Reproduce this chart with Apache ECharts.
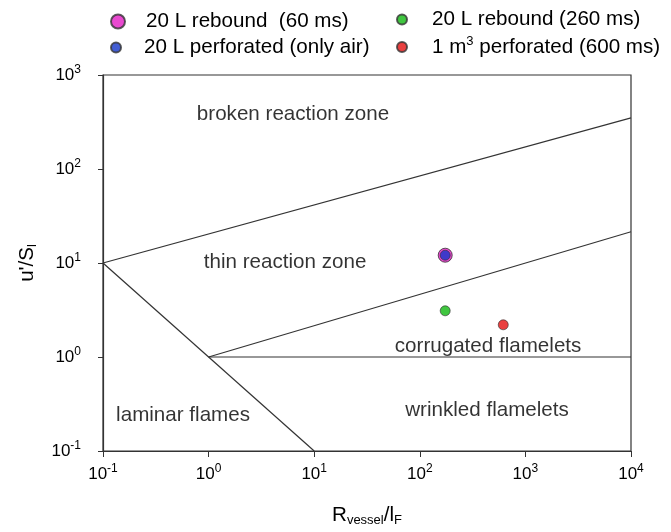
<!DOCTYPE html>
<html><head><meta charset="utf-8">
<script src="https://cdn.jsdelivr.net/npm/echarts@6/dist/echarts.min.js"></script>
<style>html,body{margin:0;padding:0;background:#fff}#c{width:671px;height:532px}</style>
</head><body><div id="c"></div>
<script>
// Data
var xTicks = [0.1, 1, 10, 100, 1000, 10000];
var yTicks = [0.1, 1, 10, 100, 1000];
var lineUpper = [[0.1, 10], [10000, 350]];
var lineLower = [[1, 1], [10000, 21.5]];
var lineDiag = [[0.1, 10], [10, 0.1]];
var lineHoriz = [[1, 1], [10000, 1]];
var rebound60 = [[174, 12.1]];
var perforatedAir = [[174, 12.1]];
var rebound260 = [[174, 3.1]];
var perforated1m3 = [[617, 2.2]];
var regionNames = ['broken reaction zone', 'thin reaction zone', 'corrugated flamelets', 'wrinkled flamelets', 'laminar flames'];
var regionAt = [[6.3, 380], [5.3, 10.2], [443, 1.31], [433, 0.271], [0.573, 0.24]];

var FONT = 'Liberation Sans, Arial, sans-serif';
var TXT = 20.6;
function expLabel(v){
  var e = Math.round(Math.log10(v));
  return '{b|10}{s|' + e + '}';
}
var tickRich = {
  b: {fontSize: 17, fontFamily: FONT, color: '#000', lineHeight: 22},
  s: {fontSize: 12, fontFamily: FONT, color: '#000', verticalAlign: 'top', lineHeight: 22, padding:[0,0,8,0]}
};
var lineStyle = {color: '#333', width: 1.2};
function lineSeries(d){
  return {type:'line', data:d, symbol:'none', lineStyle:lineStyle, silent:true, animation:false, z:2};
}
var legendRich = {
  t: {fontSize: TXT, fontFamily: FONT, color: '#000'},
  sup: {fontSize: 13, fontFamily: FONT, color: '#000', padding:[0,0,11,0]}
};
function mkLegend(name, left, top, size, pad){
  return {data:[name], left:left, top:top, itemWidth:24, itemHeight:size, icon:'circle', padding:0,
    textStyle:{fontSize:TXT, fontFamily:FONT, color:'#000', padding:[0,0,0,pad], rich:legendRich},
    formatter: function(n){ return n==='1 m3 perforated (600 ms)' ? '{t|1 m}{sup|3}{t| perforated (600 ms)}' : '{t|'+n+'}'; },
    selectedMode:false};
}
var chart = echarts.init(document.getElementById('c'), null, {renderer:'canvas'});
chart.setOption({
  backgroundColor:'#fff',
  animation:false,
  grid:{left:103, right:40, top:75, bottom:77, show:true, borderColor:'#333', borderWidth:1.2},
  legend:[
    mkLegend('20 L rebound  (60 ms)', 110, 11, 14, 11),
    mkLegend('20 L perforated (only air)', 110, 37, 10, 11),
    mkLegend('20 L rebound (260 ms)', 396, 9, 10, 13),
    mkLegend('1 m3 perforated (600 ms)', 396, 35, 10, 13)
  ],
  xAxis:{type:'log', logBase:10, min:0.1, max:10000,
    name:'{r|R}{sub|vessel}{r|/l}{sub|F}', nameLocation:'middle', nameGap:53,
    nameTextStyle:{rich:{r:{fontSize:TXT,fontFamily:FONT,color:'#000'}, sub:{fontSize:13,fontFamily:FONT,color:'#000',padding:[10,0,0,0]}}},
    axisLine:{lineStyle:{color:'#333', width:1.2}},
    axisTick:{show:true, inside:false, length:6, lineStyle:{color:'#333'}},
    minorTick:{show:false}, splitLine:{show:false},
    axisLabel:{formatter:expLabel, rich:tickRich, margin:12}
  },
  yAxis:{type:'log', logBase:10, min:0.1, max:1000,
    name:"{r|u'/S}{sub|l}", nameLocation:'middle', nameGap:64,
    nameTextStyle:{rich:{r:{fontSize:TXT,fontFamily:FONT,color:'#000'}, sub:{fontSize:13,fontFamily:FONT,color:'#000',padding:[10,0,0,0]}}},
    axisLine:{lineStyle:{color:'#333', width:1.2}},
    axisTick:{show:true, inside:false, length:5, lineStyle:{color:'#333'}},
    splitLine:{show:false},
    axisLabel:{formatter:expLabel, rich:tickRich, margin:22}
  },
  series:[
    lineSeries(lineUpper), lineSeries(lineLower), lineSeries(lineDiag), lineSeries(lineHoriz),
    {type:'scatter', name:'20 L rebound  (60 ms)', data:rebound60, symbolSize:14, z:5,
      itemStyle:{color:'#e41cc4', borderColor:'#333', borderWidth:1}},
    {type:'scatter', name:'20 L perforated (only air)', data:perforatedAir, symbolSize:10, z:6,
      itemStyle:{color:'#1436c8', borderColor:'#333', borderWidth:0.8}},
    {type:'scatter', name:'20 L rebound (260 ms)', data:rebound260, symbolSize:10, z:5,
      itemStyle:{color:'#10b810', borderColor:'#333', borderWidth:0.8}},
    {type:'scatter', name:'1 m3 perforated (600 ms)', data:perforated1m3, symbolSize:10, z:5,
      itemStyle:{color:'#e41010', borderColor:'#333', borderWidth:0.8}},
    {type:'scatter', data:regionAt.map(function(p,i){return {value:p, name:regionNames[i]};}),
      symbolSize:0, silent:true, z:4,
      label:{show:true, position:'inside', formatter:'{b}', fontSize:TXT, fontFamily:FONT, color:'#000'}}
  ]
});
</script></body></html>
